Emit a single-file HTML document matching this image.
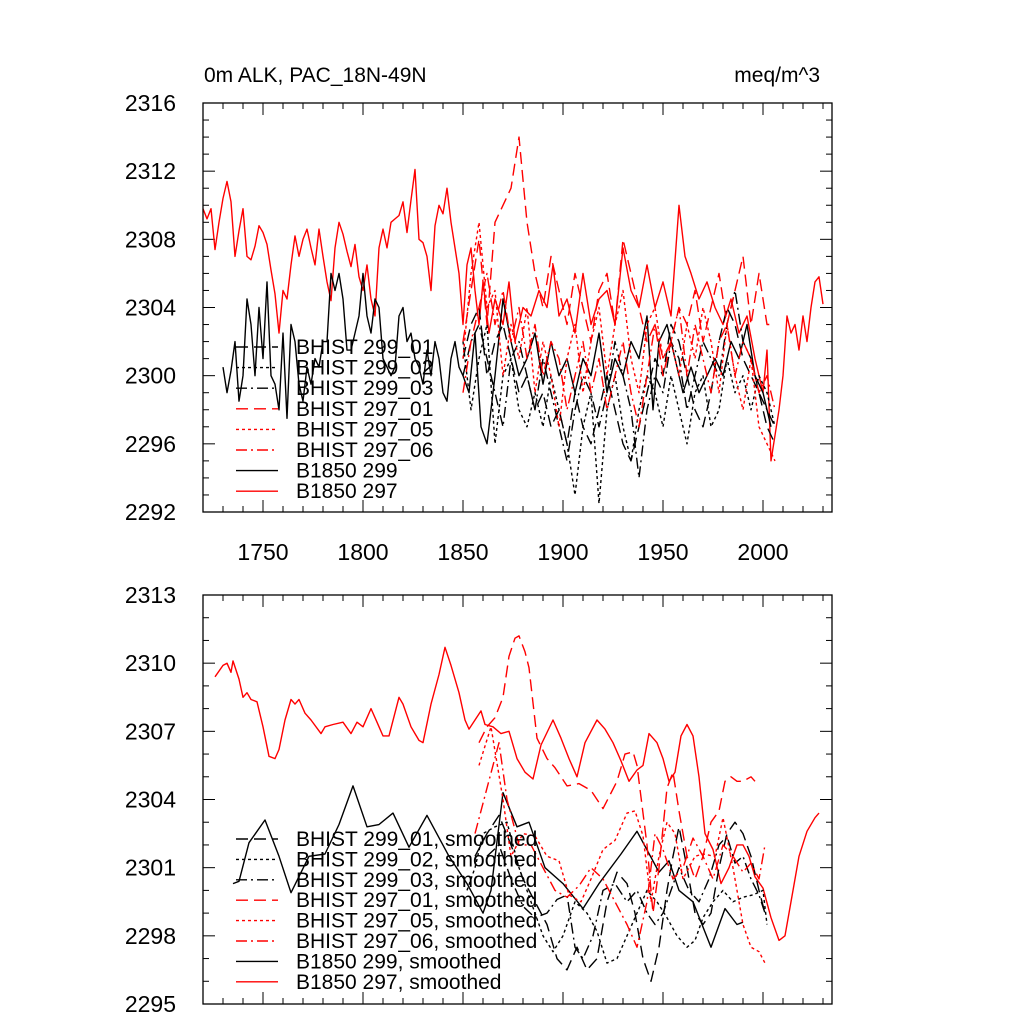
<!DOCTYPE html>
<html><head><meta charset="utf-8"><style>
html,body{margin:0;padding:0;background:#fff;}
svg{display:block;font-family:"Liberation Sans",sans-serif;}
</style></head><body>
<svg id="chart" width="1024" height="1024" xmlns="http://www.w3.org/2000/svg">
<rect width="1024" height="1024" fill="#fff"/>
<text x="204" y="82" font-size="21">0m ALK, PAC_18N-49N</text>
<text x="820" y="82" font-size="21" text-anchor="end">meq/m^3</text>
<g id="top"></g>
<g id="bot"></g>
</svg>
<script>
// ---- top panel data (annual-ish raw) ----
const b297Years=[1720,1722,1724,1726,1728,1730,1732,1734,1736,1738,1740,1742,1744,1746,1748,1750,1752,1754,1756,1758,1760,1762,1764,1766,1768,1770,1772,1774,1776,1778,1780,1782,1784,1786,1788,1790,1792,1794,1796,1798,1800,1802,1804,1806,1808,1810,1812,1814,1816,1818,1820,1822,1824,1826,1828,1830,1832,1834,1836,1838,1840,1842,1844,1846,1848,1850,1852,1854,1856,1858,1860,1863,1866,1870,1873,1876,1880,1884,1888,1892,1895,1898,1902,1906,1910,1914,1918,1922,1926,1930,1934,1938,1942,1946,1950,1954,1958,1961,1964,1968,1972,1976,1980,1984,1988,1992,1996,2000,2002,2004,2006,2008,2010,2012,2014,2016,2018,2020,2022,2024,2026,2028,2030];
const b297Vals=[2309.8,2309.2,2309.8,2307.4,2309.0,2310.4,2311.4,2310.2,2307.0,2308.5,2309.8,2307.0,2306.8,2307.6,2308.8,2308.4,2307.7,2306.2,2304.8,2302.5,2305.0,2304.5,2306.5,2308.2,2307.0,2308.0,2308.6,2307.5,2306.5,2308.6,2307.0,2305.5,2304.4,2307.5,2309.0,2308.3,2307.3,2306.4,2307.7,2305.8,2305.0,2306.5,2304.5,2303.5,2307.5,2308.6,2307.5,2309.0,2309.2,2309.4,2310.2,2308.4,2310.3,2312.1,2308.0,2307.8,2307.0,2305.0,2308.8,2310.0,2309.5,2311.0,2309.0,2307.5,2306.0,2303.0,2306.5,2307.5,2305.0,2303.0,2305.5,2302.5,2304.5,2303.0,2305.5,2302.0,2304.0,2303.5,2305.0,2304.0,2306.5,2303.5,2304.5,2302.5,2306.0,2303.0,2304.5,2305.0,2303.0,2307.5,2305.0,2304.0,2306.5,2304.0,2305.5,2303.5,2310.0,2307.0,2306.0,2304.5,2305.5,2304.0,2303.0,2304.5,2302.5,2303.5,2301.0,2299.0,2301.5,2295.0,2296.5,2298.0,2300.0,2303.5,2302.5,2303.0,2301.5,2303.5,2302.0,2304.0,2305.5,2305.8,2304.2];
const b299Years=[1730,1732,1734,1736,1738,1740,1742,1744,1746,1748,1750,1752,1754,1756,1758,1760,1762,1764,1766,1768,1770,1772,1774,1776,1778,1780,1782,1784,1786,1788,1790,1792,1794,1796,1798,1800,1802,1804,1806,1808,1810,1812,1814,1816,1818,1820,1822,1824,1826,1828,1830,1832,1834,1836,1838,1840,1842,1844,1846,1848,1850,1853,1856,1859,1862,1866,1870,1874,1878,1882,1886,1890,1894,1898,1902,1906,1910,1914,1918,1922,1926,1930,1934,1938,1942,1945,1948,1952,1956,1960,1964,1968,1972,1976,1980,1984,1988,1992,1996,2000,2004];
const b299Vals=[2300.5,2299,2300.3,2302,2298.5,2300,2304.5,2303,2300,2304,2301,2305.5,2300,2299.5,2298,2302.5,2297.5,2303,2302,2299.5,2298.5,2300.5,2299.5,2301,2300.5,2302,2302,2306,2305,2306,2304.5,2301.5,2301.5,2302.5,2303.5,2306,2303.5,2302.5,2304.5,2304,2301,2300.5,2300,2300.5,2303.5,2304,2302,2302.5,2301,2300.5,2299.5,2301.5,2300,2302,2301,2299,2298.5,2301,2302,2300.5,2300,2299,2302.5,2297,2296,2300,2304.5,2302,2300,2301,2302.5,2299.5,2302,2300,2301,2299,2301,2300,2302.5,2299,2301,2300,2302,2301,2303.5,2298,2302,2303,2301,2299,2300.5,2299,2300,2301,2300,2302,2301,2303,2300,2299,2297];
const histYears=[1850,1854,1858,1862,1866,1870,1874,1878,1882,1886,1890,1894,1898,1902,1906,1910,1914,1918,1922,1926,1930,1934,1938,1942,1946,1950,1954,1958,1962,1966,1970,1974,1978,1982,1986,1990,1994,1998,2002,2006];
const h297_01=[2302,2305,2308,2303,2309,2310,2311,2314,2309,2306,2304,2307,2305,2303,2306,2304,2302,2305,2306,2303,2308,2306,2304,2302,2303,2300,2302,2304,2303,2305,2302,2304,2306,2303,2305,2307,2303,2306,2303,2303];
const h297_05=[2301,2306,2309,2304,2305,2300,2303,2301,2304,2299,2302,2300,2297,2301,2303,2299,2302,2304,2300,2303,2305,2301,2299,2303,2304,2301,2302,2300,2303,2301,2304,2302,2299,2303,2300,2298,2301,2297,2296,2295];
const h297_06=[2299,2302,2304,2306,2303,2305,2302,2304,2301,2303,2300,2302,2301,2298,2300,2302,2299,2301,2298,2300,2302,2299,2297,2300,2303,2301,2302,2304,2300,2303,2301,2299,2302,2303,2300,2302,2301,2299,2300,2298];
const h299_01=[2301,2303,2304,2300,2302,2303,2301,2299,2300,2298,2299,2297,2298,2296,2299,2297,2296,2298,2300,2298,2296,2295,2297,2299,2301,2300,2303,2302,2300,2298,2297,2299,2302,2304,2303,2301,2300,2299,2297,2296];
const h299_02=[2302,2298,2301,2303,2296,2300,2301,2298,2297,2299,2297,2300,2298,2296,2293,2297,2299,2292.5,2298,2300,2297,2295,2298,2300,2299,2297,2300,2298,2296,2299,2300,2297,2298,2301,2299,2300,2298,2300,2299,2297];
const h299_03=[2300,2302,2303,2301,2299,2297,2301,2302,2300,2298,2301,2299,2297,2295,2298,2300,2299,2297,2299,2302,2300,2298,2294,2298,2300,2299,2302,2301,2298,2300,2302,2301,2300,2303,2305,2302,2301,2299,2298,2297];
const topYTicks=[2292,2296,2300,2304,2308,2312,2316];
const xTicks=[1750,1800,1850,1900,1950,2000];
// ---- bottom panel data (smoothed) ----
const s297Years=[1726,1730,1732,1734,1735,1738,1740,1742,1744,1747,1750,1753,1756,1758,1761,1764,1766,1768,1771,1774,1779,1781,1785,1790,1794,1797,1800,1804,1807,1810,1813,1818,1820,1824,1826,1828,1830,1834,1838,1841,1844,1848,1851,1853,1856,1859,1861,1865,1869,1873,1877,1881,1885,1889,1895,1899,1903,1907,1911,1917,1921,1925,1929,1933,1937,1940,1943,1947,1950,1953,1956,1959,1962,1965,1968,1971,1975,1979,1983,1987,1990,1993,1996,2000,2004,2008,2011,2014,2018,2022,2026,2028];
const s297Vals=[2309.4,2309.9,2310.0,2309.6,2310.1,2309.3,2308.5,2308.7,2308.4,2308.3,2307.2,2305.9,2305.8,2306.2,2307.5,2308.4,2308.2,2308.4,2307.8,2307.5,2306.9,2307.2,2307.3,2307.4,2306.9,2307.4,2307.2,2308.0,2307.4,2306.8,2306.8,2308.5,2308.2,2307.2,2306.9,2306.6,2306.5,2308.2,2309.5,2310.7,2309.9,2308.7,2307.5,2307.1,2307.5,2307.9,2307.3,2307.2,2306.9,2307.0,2305.8,2305.2,2304.9,2306.4,2307.5,2306.7,2305.8,2305.0,2306.5,2307.5,2307.1,2306.5,2305.7,2304.8,2305.3,2305.5,2306.9,2306.5,2305.8,2304.8,2305.2,2306.8,2307.3,2306.8,2305.0,2302.5,2301.8,2300.3,2301.0,2302.0,2302.0,2301.5,2300.6,2300.1,2298.8,2297.8,2298.0,2299.5,2301.5,2302.6,2303.2,2303.4];
const s299Years=[1735,1738,1743,1751,1758,1764,1773,1781,1788,1795,1802,1808,1815,1823,1832,1843,1852,1860,1864,1870,1877,1883,1891,1900,1910,1918,1929,1937,1948,1953,1958,1965,1974,1981,1987,1990];
const s299Vals=[2300.3,2300.4,2302.1,2303.1,2301.5,2299.9,2301.5,2301.6,2302.9,2304.6,2302.8,2302.9,2303.4,2301.9,2303.3,2301.5,2300.3,2299.0,2300.0,2304.3,2302.8,2303.0,2301.0,2300.3,2299.2,2300.3,2301.6,2302.6,2300.8,2301.3,2300.0,2299.5,2297.5,2299.2,2298.5,2298.6];
const sh297_01Years=[1858,1862,1866,1870,1873,1876,1878,1881,1883,1887,1892,1896,1902,1908,1914,1920,1927,1931,1935,1937,1942,1945,1948,1952,1955,1958,1962,1966,1970,1974,1978,1981,1984,1987,1990,1994,1996];
const sh297_01=[2306.5,2307.2,2307.6,2308.5,2310.3,2311.1,2311.2,2310.5,2309.8,2306.7,2305.8,2305.4,2304.6,2304.7,2304.4,2303.6,2304.8,2306.0,2306.1,2305.5,2302.0,2299.0,2301.0,2304.5,2305.2,2303.5,2301.5,2300.5,2301.5,2303.0,2303.5,2304.8,2305.0,2304.8,2304.8,2305.0,2304.8];
const sh297_05Years=[1858,1864,1870,1874,1880,1886,1892,1898,1903,1909,1914,1920,1926,1932,1936,1940,1944,1948,1952,1956,1960,1966,1970,1976,1980,1985,1990,1994,1998,2001];
const sh297_05=[2305.5,2307.2,2304,2301.5,2302.5,2302.4,2301.5,2301.3,2299.8,2299.5,2300.5,2301.8,2302.2,2303.4,2303.5,2302.4,2299.5,2301.5,2303.0,2302.5,2300.5,2301.5,2301.6,2301.5,2303.2,2301.0,2298.5,2297.5,2297.3,2296.8];
const sh297_06Years=[1856,1862,1868,1872,1878,1884,1890,1896,1902,1908,1914,1920,1926,1932,1937,1942,1946,1950,1955,1960,1965,1970,1975,1980,1985,1990,1994,1998,2001];
const sh297_06=[2302.5,2304.5,2306.5,2304.0,2302.0,2302.0,2301.0,2300.0,2299.7,2300.2,2301.0,2300.5,2299.5,2298.5,2297.5,2299.5,2302.5,2301.8,2300.5,2301.0,2302.3,2301.5,2300.5,2302.0,2301.5,2300.8,2301.2,2300.5,2302.0];
const sh299_01Years=[1856,1862,1868,1874,1880,1886,1892,1897,1902,1907,1912,1917,1922,1927,1932,1936,1940,1944,1948,1952,1955,1958,1962,1966,1970,1974,1978,1982,1986,1990,1994,1998,2001];
const sh299_01=[2301.5,2302.5,2303.3,2302.0,2300.5,2299.5,2298.5,2297.0,2296.5,2297.5,2296.5,2297.0,2299.5,2300.8,2300.3,2299.0,2297.0,2296.0,2297.5,2300.0,2301.5,2302.8,2301.0,2299.0,2298.5,2299.0,2301.0,2302.5,2303.0,2302.5,2301.5,2300.0,2299.0];
const sh299_02Years=[1852,1856,1860,1866,1872,1878,1884,1890,1895,1900,1906,1912,1917,1922,1927,1932,1937,1942,1947,1952,1957,1962,1966,1970,1975,1980,1985,1990,1995,2000,2002];
const sh299_02=[2300.0,2301.0,2302.5,2302.8,2303.0,2301.0,2299.5,2298.0,2297.3,2298.0,2299.5,2299.0,2298.2,2296.8,2297.0,2298.0,2299.0,2300.0,2299.5,2298.8,2298.0,2297.5,2297.8,2298.8,2299.5,2300.0,2299.5,2299.7,2299.8,2300.0,2298.5];
const sh299_03Years=[1862,1868,1874,1880,1886,1892,1897,1902,1906,1910,1915,1920,1926,1932,1937,1942,1946,1950,1954,1958,1963,1968,1973,1978,1982,1986,1990,1994,1998,2001];
const sh299_03=[2301.5,2302.0,2300.5,2299.3,2298.8,2299.0,2299.6,2299.8,2297.5,2297.0,2298.0,2300.0,2300.3,2299.5,2300.0,2299.0,2298.5,2299.0,2300.0,2301.0,2300.0,2299.5,2300.5,2302.0,2302.4,2301.2,2301.5,2300.5,2299.8,2299.0];
const botYTicks=[2295,2298,2301,2304,2307,2310,2313];

const NS="http://www.w3.org/2000/svg";
const X0=203,X1=832,YR0=1720,YR1=2034.5;
const xs=y=>X0+(y-YR0)*(X1-X0)/(YR1-YR0);
function mk(t,a,p){const e=document.createElementNS(NS,t);for(const k in a)e.setAttribute(k,a[k]);p.appendChild(e);return e;}
const DASH={solid:"",long:"12 6",dot:"3 3",dashdot:"11 4 2 4"};

function panel(g,top,bot,ymin,ymax,yTicks,minorStep,showXLabels,series,legend,lx,ly,lstep){
  const ys=v=>bot-(v-ymin)*(bot-top)/(ymax-ymin);
  for(let v=ymin;v<=ymax+1e-9;v+=minorStep){
    const major=yTicks.includes(v); const L=major?12:6;
    let t=mk("line",{x1:X0,x2:X0+L,y1:ys(v),y2:ys(v),stroke:"#000","stroke-width":1},g);
    
    
    let t2=mk("line",{x1:X1,x2:X1-L,y1:ys(v),y2:ys(v),stroke:"#000","stroke-width":1},g);
    
    
  }
  yTicks.forEach(v=>{
    const tx=mk("text",{x:176,y:ys(v)+8,"font-size":23,"text-anchor":"end"},g);tx.textContent=v;
    
    
  });
  for(let yr=1730;yr<=2030;yr+=10){
    const major=xTicks.includes(yr);const L=major?12:6;const x=xs(yr);
    let a=mk("line",{x1:x,x2:x,y1:bot,y2:bot-L,stroke:"#000","stroke-width":1},g);
    
    
    let b=mk("line",{x1:x,x2:x,y1:top,y2:top+L,stroke:"#000","stroke-width":1},g);
    
    
  }
  if(showXLabels) xTicks.forEach(yr=>{
    const tx=mk("text",{x:xs(yr),y:bot+48,"font-size":23,"text-anchor":"middle"},g);tx.textContent=yr;
    
    
  });
  series.forEach(s=>{
    const d=s.x.map((yr,i)=>(i?"L":"M")+xs(yr).toFixed(1)+","+ys(s.y[i]).toFixed(1)).join("");
    const p=mk("path",{d:d,fill:"none",stroke:s.c,"stroke-width":1.4,"stroke-dasharray":DASH[s.st],"stroke-linejoin":"round"},g);
    
    
  });
  legend.forEach((s,i)=>{
    const y=ly+i*lstep;
    const l=mk("line",{x1:lx,x2:lx+42,y1:y,y2:y,stroke:s.c,"stroke-width":1.4,"stroke-dasharray":DASH[s.st]},g);
    
    
    const t=mk("text",{x:lx+60,y:y+7,"font-size":21},g);t.textContent=s.label;
    
    
  });
  const fr=mk("rect",{x:X0,y:top,width:X1-X0,height:bot-top,fill:"none",stroke:"#000","stroke-width":1.3},g);
  
  
}
const topSeries=[
 {x:b297Years,y:b297Vals,c:"#f00",st:"solid",n:"b1850-297-line"},
 {x:b299Years,y:b299Vals,c:"#000",st:"solid",n:"b1850-299-line"},
 {x:histYears,y:h299_01,c:"#000",st:"long",n:"bhist-299-01-line"},
 {x:histYears,y:h299_02,c:"#000",st:"dot",n:"bhist-299-02-line"},
 {x:histYears,y:h299_03,c:"#000",st:"dashdot",n:"bhist-299-03-line"},
 {x:histYears,y:h297_01,c:"#f00",st:"long",n:"bhist-297-01-line"},
 {x:histYears,y:h297_05,c:"#f00",st:"dot",n:"bhist-297-05-line"},
 {x:histYears,y:h297_06,c:"#f00",st:"dashdot",n:"bhist-297-06-line"}];
const legTop=[["BHIST 299_01","#000","long"],["BHIST 299_02","#000","dot"],["BHIST 299_03","#000","dashdot"],["BHIST 297_01","#f00","long"],["BHIST 297_05","#f00","dot"],["BHIST 297_06","#f00","dashdot"],["B1850 299","#000","solid"],["B1850 297","#f00","solid"]].map(a=>({label:a[0],c:a[1],st:a[2]}));
panel(document.getElementById("top"),103,512,2292,2316,topYTicks,1,true,topSeries,legTop,236,347,20.6);
const botSeries=[
 {x:s297Years,y:s297Vals,c:"#f00",st:"solid",n:"b1850-297-smoothed-line"},
 {x:s299Years,y:s299Vals,c:"#000",st:"solid",n:"b1850-299-smoothed-line"},
 {x:sh299_01Years,y:sh299_01,c:"#000",st:"long",n:"bhist-299-01-smoothed-line"},
 {x:sh299_02Years,y:sh299_02,c:"#000",st:"dot",n:"bhist-299-02-smoothed-line"},
 {x:sh299_03Years,y:sh299_03,c:"#000",st:"dashdot",n:"bhist-299-03-smoothed-line"},
 {x:sh297_01Years,y:sh297_01,c:"#f00",st:"long",n:"bhist-297-01-smoothed-line"},
 {x:sh297_05Years,y:sh297_05,c:"#f00",st:"dot",n:"bhist-297-05-smoothed-line"},
 {x:sh297_06Years,y:sh297_06,c:"#f00",st:"dashdot",n:"bhist-297-06-smoothed-line"}];
const legBot=legTop.map(o=>({label:o.label+", smoothed",c:o.c,st:o.st}));
panel(document.getElementById("bot"),595,1004,2295,2313,botYTicks,1,false,botSeries,legBot,236,839,20.4);
</script>
</body></html>
